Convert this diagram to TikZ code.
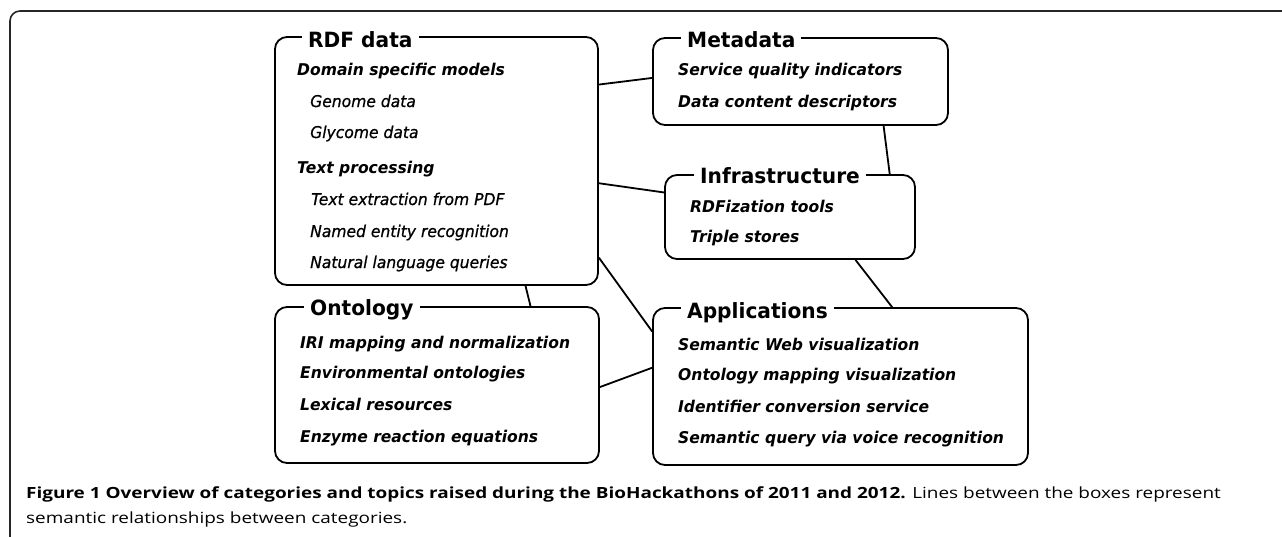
\documentclass[tikz,border=0pt]{standalone}
\usepackage{fontspec}
\setmainfont[FakeStretch=1.23]{Open Sans}
\newfontfamily\boxfont[FakeStretch=0.96]{DejaVu Sans}
\newfontfamily\subfont[FakeStretch=0.96, FakeBold=0.8]{DejaVu Sans}
\usetikzlibrary{calc}
\def\drawlink{\draw[line width=1.8pt]}
\def\catbox{\node[draw=black, line width=1.8pt, rounded corners=12pt, inner sep=0pt]}
\def\cattitle{\node[fill=white, inner xsep=6pt, inner ysep=1pt, anchor=base west, font=\boxfont\bfseries\fontsize{21}{24}\selectfont]}

\begin{document}
\begin{tikzpicture}[x=1pt,y=-1pt,
  topic/.style={anchor=base west, inner sep=0pt, font=\boxfont\bfseries\itshape\fontsize{16.2}{18}\selectfont},
  subtopic/.style={anchor=base west, inner sep=0pt, font=\subfont\itshape\fontsize{16.2}{18}\selectfont}]
\useasboundingbox (0,0) rectangle (1282,536);
% outer frame, open to the right and the bottom
\draw[line width=1.6pt, color=black!85, rounded corners=10pt] (10,545) -- (10,11) -- (1295,11);

% ---------- the five categories
\catbox[minimum width=323pt, minimum height=248pt] (rdf) at (436.5,161) {};
\catbox[minimum width=295pt, minimum height=87pt] (meta) at (800.5,81.5) {};
\catbox[minimum width=250pt, minimum height=84pt] (infra) at (790,217) {};
\catbox[minimum width=324pt, minimum height=156pt] (onto) at (437,385) {};
\catbox[minimum width=375pt, minimum height=157pt] (apps) at (840.5,386.5) {};

\cattitle (rdf_t) at (302,47) {RDF data};
\cattitle (meta_t) at (681,47) {Metadata};
\cattitle (infra_t) at (694,183) {Infrastructure};
\cattitle (onto_t) at (304,315) {Ontology};
\cattitle (apps_t) at (681,318) {Applications};

% topics of each category
\node[topic] (rdf1) at (297,75) {Domain specific models};
\node[subtopic] (rdf2) at (310,107) {Genome data};
\node[subtopic] (rdf3) at (310,138) {Glycome data};
\node[topic] (rdf4) at (297,173) {Text processing};
\node[subtopic] (rdf5) at (311,205) {Text extraction from PDF};
\node[subtopic] (rdf6) at (310,237) {Named entity recognition};
\node[subtopic] (rdf7) at (310,268) {Natural language queries};

\foreach \y/\txt [count=\i] in {75/Service quality indicators, 107/Data content descriptors}
  \node[topic] (meta\i) at (678,\y) {\txt};
\foreach \y/\txt [count=\i] in {212/RDFization tools, 242/Triple stores}
  \node[topic] (infra\i) at (690,\y) {\txt};
\foreach \y/\txt [count=\i] in {348/IRI mapping and normalization, 378/Environmental ontologies,
    410/Lexical resources, 442/Enzyme reaction equations}
  \node[topic] (onto\i) at (300,\y) {\txt};
\foreach \y/\txt [count=\i] in {350/Semantic Web visualization, 380/Ontology mapping visualization,
    412/Identifier conversion service, 443/Semantic query via voice recognition}
  \node[topic] (apps\i) at (678,\y) {\txt};

% ---------- links between the categories
\drawlink ($(rdf.north east)!0.194!(rdf.south east)$) -- ($(meta.north west)!0.46!(meta.south west)$);
\drawlink ($(rdf.north east)!0.589!(rdf.south east)$) -- ($(infra.north west)!0.214!(infra.south west)$);
\drawlink ($(meta.south west)!0.78!(meta.south east)$) -- ($(infra.north west)!0.896!(infra.north east)$);
\drawlink ($(infra.south west)!0.76!(infra.south east)$) -- ($(apps.north west)!0.637!(apps.north east)$);
\drawlink ($(rdf.north east)!0.887!(rdf.south east)$) -- ($(apps.north west)!0.153!(apps.south west)$);
\drawlink ($(rdf.south west)!0.774!(rdf.south east)$) -- ($(onto.north west)!0.787!(onto.north east)$);
\drawlink ($(onto.north east)!0.513!(onto.south east)$) -- ($(apps.north west)!0.382!(apps.south west)$);

% caption
\node[anchor=base west, inner sep=0pt, font=\fontsize{15.4}{18}\selectfont] (cap1) at (26,498)
  {\textbf{Figure 1 Overview of categories and topics raised during the BioHackathons of 2011 and 2012.} Lines between the boxes represent};
\node[anchor=base west, inner sep=0pt, font=\fontsize{15.4}{18}\selectfont] (cap2) at (26,523)
  {semantic relationships between categories.};
\end{tikzpicture}
\end{document}
